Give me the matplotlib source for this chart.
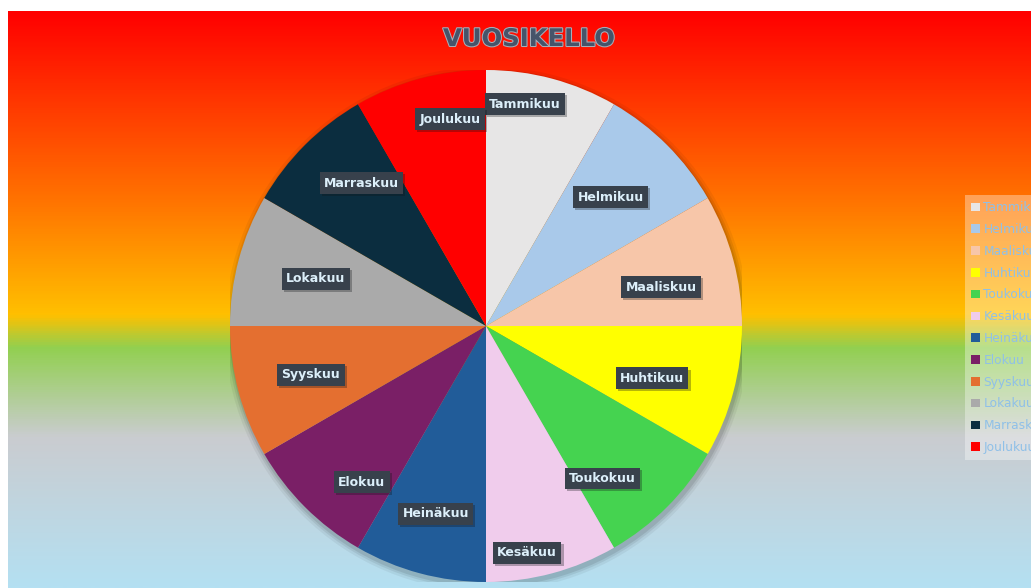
import matplotlib
matplotlib.use("Agg")
import matplotlib.pyplot as plt
import matplotlib.patheffects as pe
from matplotlib.patches import Circle
import numpy as np
from matplotlib.colors import LinearSegmentedColormap

months = ["Tammikuu", "Helmikuu", "Maaliskuu", "Huhtikuu", "Toukokuu", "Kesäkuu",
          "Heinäkuu", "Elokuu", "Syyskuu", "Lokakuu", "Marraskuu", "Joulukuu"]
values = [1, 1, 1, 1, 1, 1, 1, 1, 1, 1, 1, 1]
colors = ["#E7E6E6", "#A9C9EA", "#F7C6A9", "#FFFF00", "#45D350", "#F0CCEC",
          "#215C99", "#7A1F66", "#E46F30", "#AAAAAA", "#0B2D3F", "#FF0000"]
title = "VUOSIKELLO"

# label distance from centre (fraction of radius) and angle tweak (deg)
label_r = [0.88, 0.70, 0.70, 0.68, 0.75, 0.90, 0.76, 0.78, 0.71, 0.69, 0.74, 0.82]
label_da = [5, 1, -2.5, -2.5, -7.6, -4.7, 0, 6.5, 0.6, -0.5, -3.9, -5.2]

fig = plt.figure(figsize=(10.31, 5.88), dpi=100)
fig.patch.set_facecolor("white")

# gradient chart area
bg = fig.add_axes([8 / 1031, 0, 1 - 8 / 1031, 1 - 11 / 588])
stops = [(0.0, "#FF0000"), (0.33, "#FF7400"), (0.527, "#FFC000"),
         (0.584, "#92D050"), (0.74, "#CACCD0"), (1.0, "#B4E0F2")]
cmap = LinearSegmentedColormap.from_list("bg", stops)
grad = np.linspace(0, 1, 600).reshape(-1, 1)
bg.imshow(grad, aspect="auto", cmap=cmap, extent=[0, 1, 1, 0])
bg.set_xlim(0, 1)
bg.set_ylim(1, 0)
bg.axis("off")

# pie axes: centre (486, 326), radius 256 px
cx, cy, r = 486, 326, 256
ax = fig.add_axes([(cx - r) / 1031, (588 - cy - r) / 588, 2 * r / 1031, 2 * r / 588])
ax.set_facecolor("none")
# soft shadow under the pie
for k, a in [(1.025, 0.05), (1.015, 0.07), (1.007, 0.09)]:
    ax.add_patch(Circle((0.005, -0.012), k, facecolor="black", alpha=a, edgecolor="none", zorder=0))
wedges, _ = ax.pie(values, colors=colors, startangle=90, counterclock=False,
                   radius=1, wedgeprops=dict(linewidth=0))
ax.set_xlim(-1, 1)
ax.set_ylim(-1, 1)
ax.axis("off")

for w, name, lr, da in zip(wedges, months, label_r, label_da):
    ang = np.deg2rad((w.theta1 + w.theta2) / 2 + da)
    ax.text(lr * np.cos(ang), lr * np.sin(ang), name, ha="center", va="center",
            fontsize=9, fontweight="bold", color="#DCEFFA", zorder=5,
            bbox=dict(boxstyle="square,pad=0.35", facecolor="#38414C", edgecolor="none",
                      path_effects=[pe.SimplePatchShadow(offset=(1.5, -1.5), alpha=0.3), pe.Normal()]))

fig.text(529 / 1031, 1 - 39 / 588, title, ha="center", va="center", fontsize=17.5,
         fontweight="bold", color="#46546A",
         path_effects=[pe.Stroke(linewidth=1.5, foreground="#A7AEB8"), pe.Normal()])

leg = ax.legend(wedges, months, loc="upper left",
                bbox_to_anchor=(965 / 1031, 1 - 195 / 588), bbox_transform=fig.transFigure,
                fontsize=8.8, labelcolor="#8FC0E8", frameon=True, fancybox=False,
                handlelength=0.7, handleheight=0.7, handletextpad=0.3,
                labelspacing=0.72, borderpad=0.5, borderaxespad=0)
leg.get_frame().set_facecolor("white")
leg.get_frame().set_alpha(0.35)
leg.get_frame().set_linewidth(0)

fig.savefig("out.png", dpi=100)
